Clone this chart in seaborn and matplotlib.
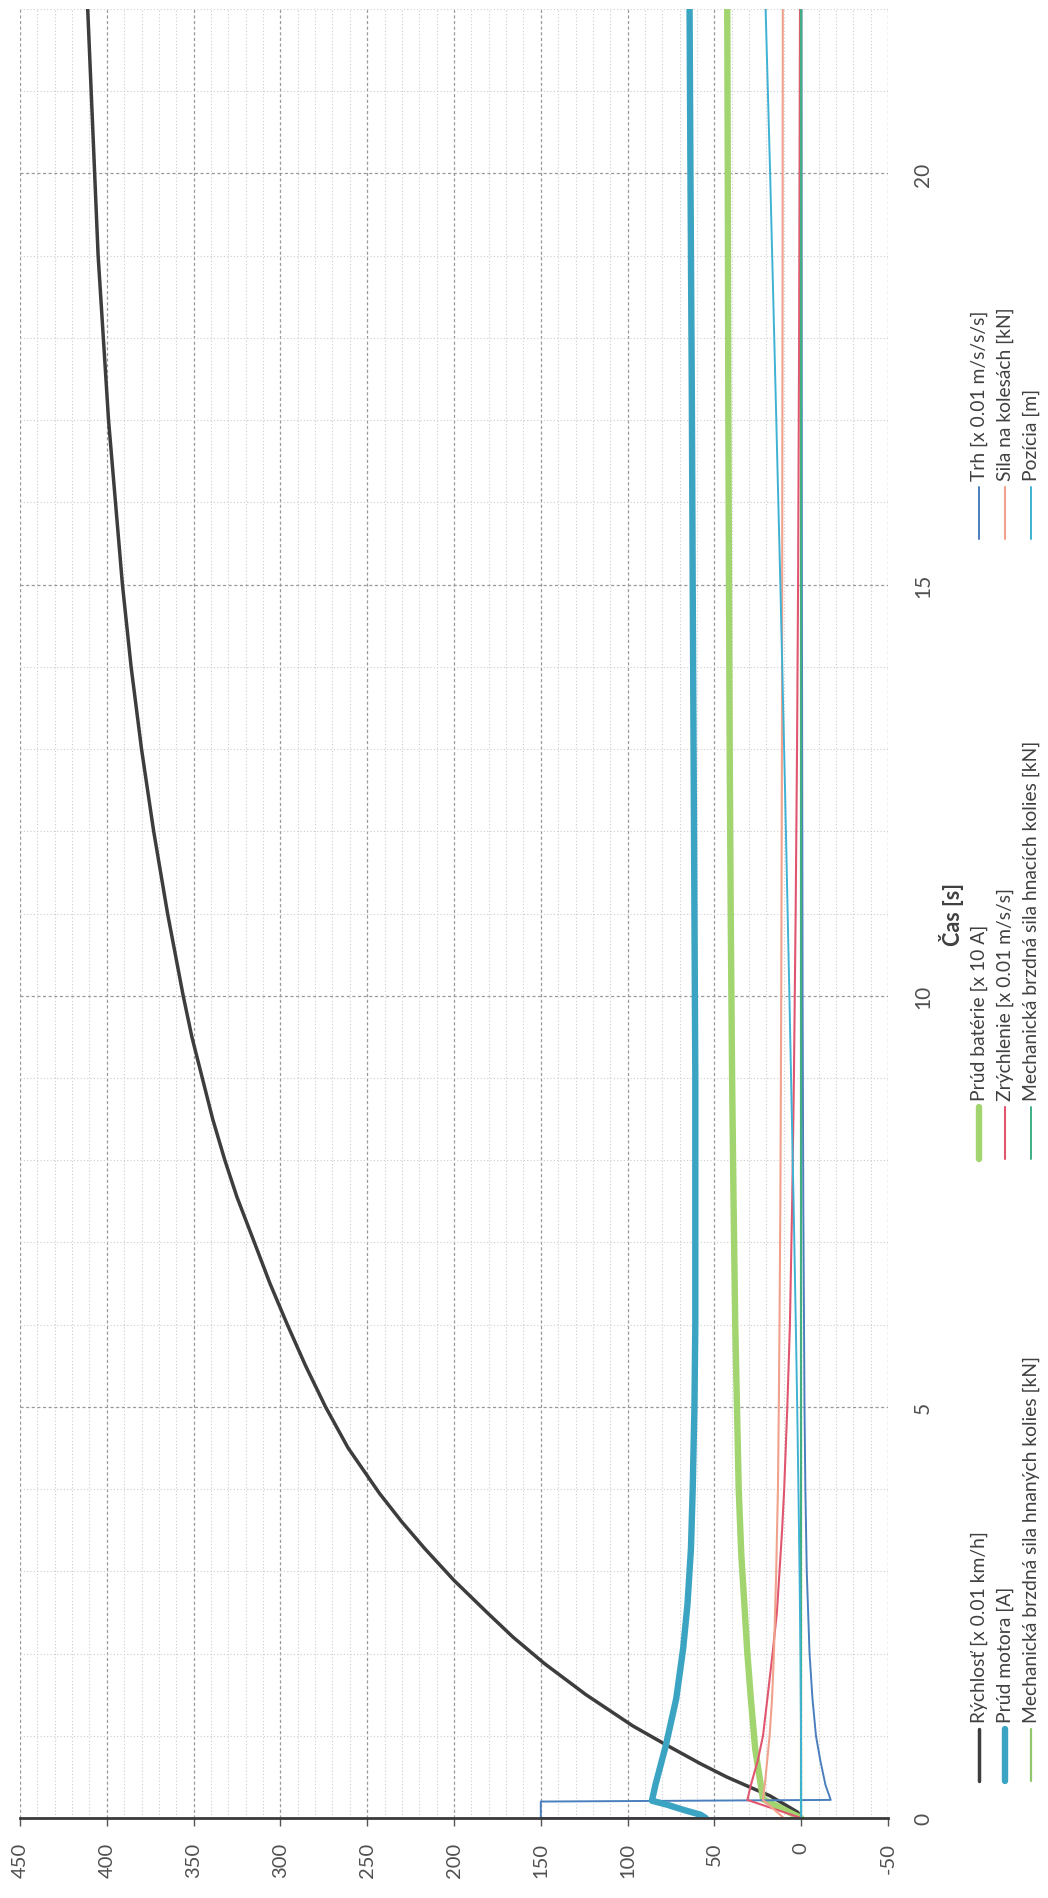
import matplotlib
matplotlib.use("Agg")
import matplotlib.pyplot as plt
import seaborn as sns
from matplotlib.lines import Line2D
from matplotlib.ticker import MultipleLocator

# ---------------------------------------------------------------------------
# Simulated run of the vehicle start-up (time in seconds)
# ---------------------------------------------------------------------------
t_speed = [0, 0.07, 0.17, 0.27, 0.37, 0.5, 0.66, 0.88, 1.12, 1.5, 1.88, 2.2,
           2.5, 2.89, 3.28, 3.6, 3.95, 4.5, 5, 5.5, 6, 6.5, 7, 7.55, 8, 8.5,
           9, 9.5, 10, 11, 12, 13, 14, 15, 16, 17, 18, 19, 20, 21, 22]
speed = [0, 2, 10, 18, 29, 43, 58, 77, 97, 124, 148, 166, 181, 200, 217, 230,
         243, 261, 274, 285.5, 296, 306, 315, 325, 332, 339, 345, 351, 356,
         365, 373, 380, 386, 391, 395, 399, 402, 405, 407, 409, 411]

t_batt = [0, 0.05, 0.23, 0.5, 0.84, 1.45, 2.0, 3.2, 4, 5, 6, 7.55, 9, 11, 13,
          15, 17.3, 20, 22]
batt_current = [0, 5, 22, 24, 26.5, 29, 31, 34.5, 36, 37, 38, 39, 39.8, 40.6,
                41.2, 41.6, 42, 42.3, 42.6]

t_jerk = [0, 0, 0.2, 0.22, 0.4, 0.7, 1.0, 1.45, 2, 3, 4, 5, 7.5, 10, 15, 22]
jerk = [0, 150, 150, -17, -14, -11, -8.5, -6.5, -4.8, -3.2, -2.4, -1.9, -1.2,
        -0.8, -0.4, -0.2]

t_motor = [0, 0.04, 0.1, 0.16, 0.21, 0.4, 0.88, 1.45, 2.06, 2.6, 3.28, 4, 5,
           6, 7.5, 9, 11, 13, 15, 17.3, 20, 22]
motor_current = [55, 58, 68, 77, 86, 84, 78, 72, 68, 65.5, 63.5, 62.5, 61.5,
                 61, 61, 61, 61.5, 62, 62.5, 63, 63.8, 64.3]

t_acc = [0, 0.22, 0.4, 0.7, 1.0, 1.45, 2, 2.5, 3, 3.5, 4, 5, 6, 7.5, 9, 11,
         13, 15, 18, 22]
acceleration = [0, 31, 29, 25, 22, 19.5, 16.5, 14, 12.5, 11, 9.8, 8, 6.5, 5.2,
                4.2, 3.2, 2.4, 1.8, 1.2, 0.7]

t_force = [0, 0.22, 0.5, 1, 1.45, 2, 3, 4, 5, 6, 7.5, 10, 13, 16, 19, 22]
wheel_force = [10, 22, 20.5, 18.2, 16.8, 15.7, 14.4, 13.4, 12.9, 12.5, 12.0,
               11.5, 11.1, 10.9, 10.7, 10.6]

t_brake = [0, 22]
brake_driven = [0, 0]
brake_driving = [0, 0]

t_pos = [0, 1, 2, 3, 4, 5, 6, 7.5, 10, 12.5, 15, 17.3, 20, 22]
position = [0, 0.1, 0.45, 0.95, 1.6, 2.3, 3.1, 4.4, 6.8, 9.3, 12, 14.7, 17.9,
            20.5]

value_ticks = list(range(-50, 451, 50))
time_ticks = [0, 5, 10, 15, 20]

# label, time, values, colour, line width (pt); order = legend order
series = [
    ("Rýchlosť [x 0.01 km/h]", t_speed, speed, "#3d3d3d", 2.5),
    ("Prúd batérie [x 10 A]", t_batt, batt_current, "#a2d46f", 4.6),
    ("Trh [x 0.01 m/s/s/s]", t_jerk, jerk, "#4a7fbd", 1.4),
    ("Prúd motora [A]", t_motor, motor_current, "#3ba4c2", 4.6),
    ("Zrýchlenie [x 0.01 m/s/s]", t_acc, acceleration, "#e0566f", 1.5),
    ("Sila na kolesách [kN]", t_force, wheel_force, "#f0a28c", 1.5),
    ("Mechanická brzdná sila hnaných kolies [kN]", t_brake, brake_driven, "#92c76c", 1.6),
    ("Mechanická brzdná sila hnacích kolies [kN]", t_brake, brake_driving, "#3fae84", 1.4),
    ("Pozícia [m]", t_pos, position, "#3fb2d4", 1.4),
]

sns.set_theme(style="white")
plt.rcParams['font.family'] = ['Lato', 'DejaVu Sans']
plt.rcParams['axes.unicode_minus'] = False

W, H = 1048, 1899
fig = plt.figure(figsize=(W / 100, H / 100), dpi=100)
fig.patch.set_facecolor("white")

# the chart is laid out sideways: time runs upward, values run right-to-left
left, right, top, bottom = 20, 888, 10, 1819
ax = fig.add_axes([left / W, (H - bottom) / H, (right - left) / W, (bottom - top) / H])

for label, t, v, color, lw in series:
    sns.lineplot(x=v, y=t, sort=False, estimator=None, color=color,
                 linewidth=lw, ax=ax, legend=False)

ax.set_xlim(450, -50)
ax.set_ylim(0, 22)
ax.xaxis.set_major_locator(MultipleLocator(50))
ax.xaxis.set_minor_locator(MultipleLocator(10))
ax.yaxis.set_major_locator(MultipleLocator(5))
ax.yaxis.set_minor_locator(MultipleLocator(1))
ax.set_xticks(value_ticks)
ax.set_yticks(time_ticks)

ax.grid(which="major", color="#999999", linestyle=(0, (2.5, 2)), linewidth=0.9)
ax.grid(which="minor", color="#cccccc", linestyle=(0, (1, 2)), linewidth=0.8)
ax.set_axisbelow(True)

for s in ("left", "right", "top"):
    ax.spines[s].set_visible(False)
ax.spines["bottom"].set_color("#3a3a3a")
ax.spines["bottom"].set_linewidth(2.0)
ax.spines["bottom"].set_zorder(5)

ax.yaxis.tick_right()
ax.tick_params(which="minor", length=0)
ax.tick_params(axis="x", which="major", direction="out", length=6, width=1,
               color="#555555", pad=11, labelsize=14.5, labelcolor="#505050",
               bottom=True)
ax.tick_params(axis="y", which="major", length=0, pad=18, labelsize=15,
               labelcolor="#505050", right=True, left=False)
for lab in ax.get_xticklabels():
    lab.set_rotation(90)
    lab.set_ha("center")
    lab.set_va("top")
for lab in ax.get_yticklabels():
    lab.set_rotation(90)
    lab.set_va("center")
    lab.set_ha("left")

ax.set_xlabel("")
ax.set_ylabel("Čas [s]", rotation=90, fontsize=15.5, fontweight="bold",
              color="#404040")
ax.yaxis.set_label_position("right")
ax.yaxis.label.set_va("center")
ax.yaxis.label.set_ha("center")
ax.yaxis.label.set_rotation_mode("default")
ax.yaxis.set_label_coords((952 - left) / (right - left), 0.5)

# legend font size chosen so the longest entry spans ~368 px
longest = max((s[0] for s in series), key=len)
probe = fig.text(0, 0, longest, fontsize=10)
fig.canvas.draw()
probe_w = probe.get_window_extent(fig.canvas.get_renderer()).width
probe.remove()
legend_fs = 10 * 368 / probe_w

# legend: three groups of three entries, rotated with the chart
col_x = [979, 1005, 1031]
group_bottom = [1782, 1160, 540]
handle_len = 52
for i, (label, t, v, color, lw) in enumerate(series):
    # series order runs across groups first
    g, r = i % 3, i // 3
    x = col_x[r]
    y0 = group_bottom[g]
    fig.add_artist(Line2D([x / W, x / W],
                          [(H - y0) / H, (H - y0 + handle_len) / H],
                          transform=fig.transFigure, color=color,
                          linewidth=max(lw, 1.4), solid_capstyle="round"))
    fig.text(x / W, (H - y0 + handle_len + 7) / H, label, rotation=90,
             ha="center", va="bottom", fontsize=legend_fs, color="#404040")

fig.savefig("out.png", dpi=100, facecolor="white")
